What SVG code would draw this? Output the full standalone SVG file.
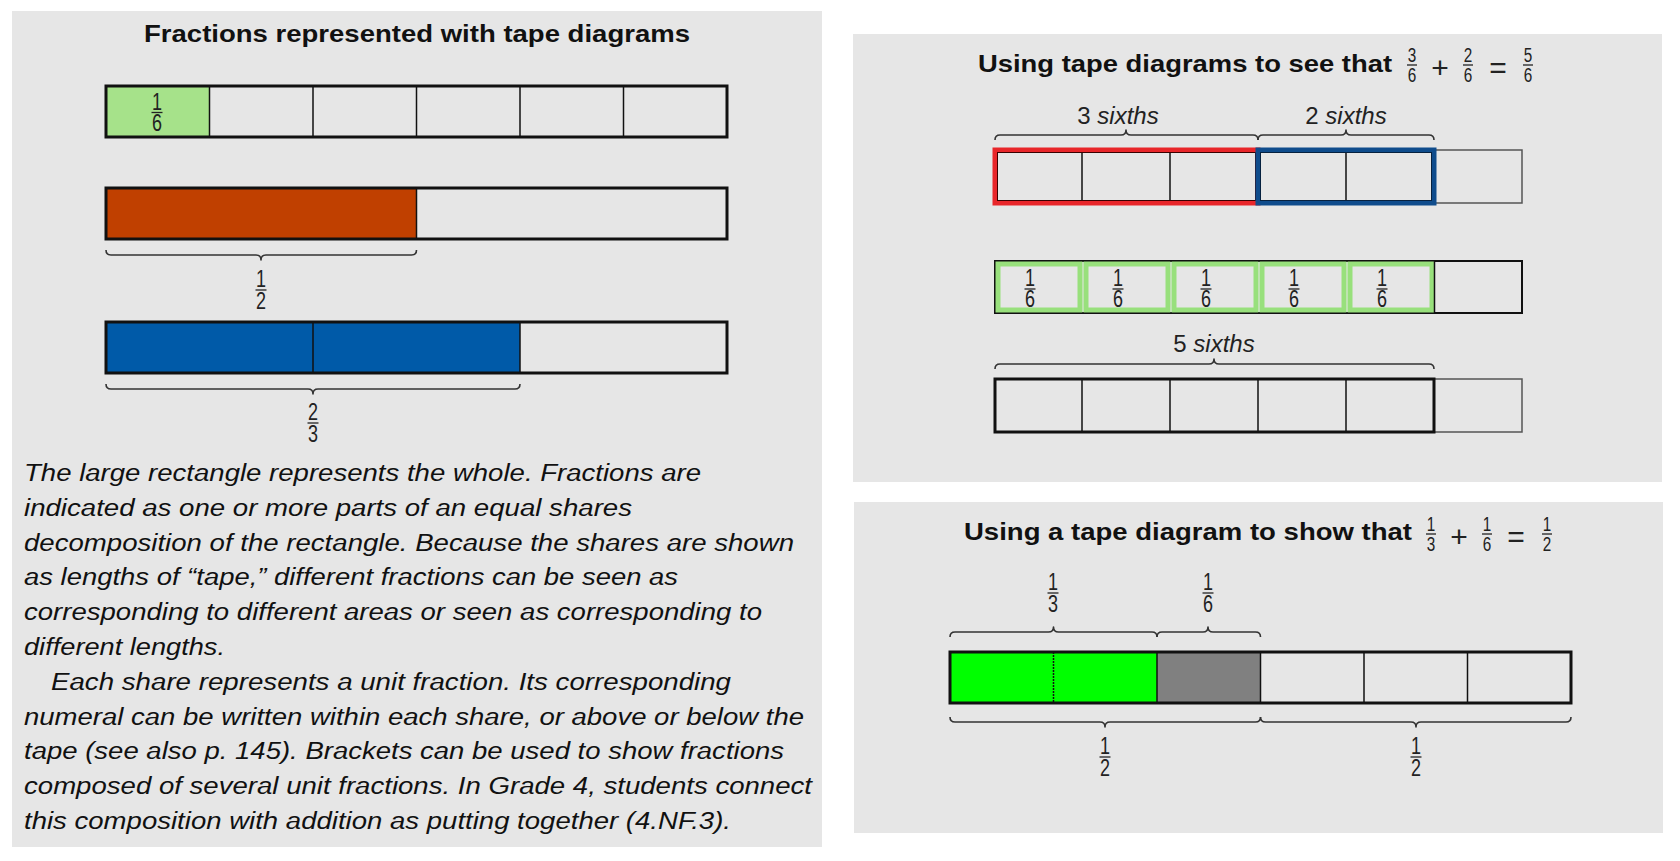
<svg xmlns="http://www.w3.org/2000/svg" width="1680" height="861" viewBox="0 0 1680 861">
<style>
.panel{fill:#e6e6e6}
.title{font-family:"Liberation Sans",Arial,sans-serif;font-weight:bold;font-size:24.5px;fill:#111}
.para{font-family:"Liberation Sans",Arial,sans-serif;font-style:italic;font-size:23.5px;fill:#111}
.num{font-family:"Liberation Sans",Arial,sans-serif;font-size:23px;fill:#222;text-anchor:middle}
.tnum{font-family:"Liberation Sans",Arial,sans-serif;font-size:20px;fill:#222;text-anchor:middle}
.op{font-family:"Liberation Sans",Arial,sans-serif;font-size:30px;fill:#222;text-anchor:middle}
.bar{stroke:#222;stroke-width:1.3}
.lbl{font-family:"Liberation Sans",Arial,sans-serif;font-size:24px;fill:#222;text-anchor:middle}
.it{font-style:italic}
.cell{fill:none;stroke:#111;stroke-width:1.5}
.thick{fill:none;stroke:#111;stroke-width:3}
.brace{fill:none;stroke:#333;stroke-width:1.6;stroke-linejoin:round}
</style>

<rect width="1680" height="861" fill="#ffffff"/>

<!-- Left panel -->
<g id="panel-left">
<rect class="panel" x="12" y="11" width="810" height="836"/>
<text class="title" x="144" y="42" textLength="546" lengthAdjust="spacingAndGlyphs">Fractions represented with tape diagrams</text>
</g>

<g id="tape-sixths">
<rect x="106" y="86" width="103.5" height="51" fill="#a6e28a"/>
<line class="cell" x1="209.5" y1="86" x2="209.5" y2="137"/>
<line class="cell" x1="313" y1="86" x2="313" y2="137"/>
<line class="cell" x1="416.5" y1="86" x2="416.5" y2="137"/>
<line class="cell" x1="520" y1="86" x2="520" y2="137"/>
<line class="cell" x1="623.5" y1="86" x2="623.5" y2="137"/>
<rect class="thick" x="106" y="86" width="621" height="51"/>
<g id="frac-l1"><text class="num"><tspan x="157" y="109.5" textLength="10" lengthAdjust="spacingAndGlyphs">1</tspan><tspan x="157" y="131" textLength="10" lengthAdjust="spacingAndGlyphs">6</tspan></text><line class="bar" x1="151.5" y1="112.5" x2="162.5" y2="112.5"/></g>
</g>

<g id="tape-half">
<rect x="106" y="188" width="310.5" height="51" fill="#c04000"/>
<line class="cell" x1="416.5" y1="188" x2="416.5" y2="239"/>
<rect class="thick" x="106" y="188" width="621" height="51"/>
<g id="frac-l2"><text class="num"><tspan x="261" y="287" textLength="10" lengthAdjust="spacingAndGlyphs">1</tspan><tspan x="261" y="308.5" textLength="10" lengthAdjust="spacingAndGlyphs">2</tspan></text><line class="bar" x1="255.5" y1="290" x2="266.5" y2="290"/></g>
</g>

<g id="tape-twothirds">
<rect x="106" y="322" width="414" height="51" fill="#005aa8"/>
<line class="cell" x1="313" y1="322" x2="313" y2="373"/>
<line class="cell" x1="520" y1="322" x2="520" y2="373"/>
<rect class="thick" x="106" y="322" width="621" height="51"/>
<g id="frac-l3"><text class="num"><tspan x="313" y="420" textLength="10" lengthAdjust="spacingAndGlyphs">2</tspan><tspan x="313" y="441.5" textLength="10" lengthAdjust="spacingAndGlyphs">3</tspan></text><line class="bar" x1="307.5" y1="423" x2="318.5" y2="423"/></g>
</g>

<g id="paragraph">
<text class="para" x="24" y="481" textLength="677" lengthAdjust="spacingAndGlyphs">The large rectangle represents the whole. Fractions are</text>
<text class="para" x="24" y="515.8" textLength="608" lengthAdjust="spacingAndGlyphs">indicated as one or more parts of an equal shares</text>
<text class="para" x="24" y="550.6" textLength="770" lengthAdjust="spacingAndGlyphs">decomposition of the rectangle. Because the shares are shown</text>
<text class="para" x="24" y="585.4" textLength="654" lengthAdjust="spacingAndGlyphs">as lengths of “tape,” different fractions can be seen as</text>
<text class="para" x="24" y="620.2" textLength="738" lengthAdjust="spacingAndGlyphs">corresponding to different areas or seen as corresponding to</text>
<text class="para" x="24" y="655" textLength="201" lengthAdjust="spacingAndGlyphs">different lengths.</text>
<text class="para" x="51" y="689.8" textLength="680" lengthAdjust="spacingAndGlyphs">Each share represents a unit fraction. Its corresponding</text>
<text class="para" x="24" y="724.6" textLength="780" lengthAdjust="spacingAndGlyphs">numeral can be written within each share, or above or below the</text>
<text class="para" x="24" y="759.4" textLength="760" lengthAdjust="spacingAndGlyphs">tape (see also p. 145). Brackets can be used to show fractions</text>
<text class="para" x="24" y="794.2" textLength="788" lengthAdjust="spacingAndGlyphs">composed of several unit fractions. In Grade 4, students connect</text>
<text class="para" x="24" y="829" textLength="707" lengthAdjust="spacingAndGlyphs">this composition with addition as putting together (4.NF.3).</text>
</g>

<!-- Top right panel -->
<g id="panel-top-right">
<rect class="panel" x="853" y="34" width="809" height="448"/>
<text class="title" x="978" y="72" textLength="414" lengthAdjust="spacingAndGlyphs">Using tape diagrams to see that</text>
<g id="eq1">
<text class="tnum"><tspan x="1412" y="62" textLength="8.5" lengthAdjust="spacingAndGlyphs">3</tspan><tspan x="1412" y="82" textLength="8.5" lengthAdjust="spacingAndGlyphs">6</tspan></text><line class="bar" x1="1407" y1="65" x2="1417" y2="65"/>
<text class="op" x="1440" y="78">+</text>
<text class="tnum"><tspan x="1468" y="62" textLength="8.5" lengthAdjust="spacingAndGlyphs">2</tspan><tspan x="1468" y="82" textLength="8.5" lengthAdjust="spacingAndGlyphs">6</tspan></text><line class="bar" x1="1463" y1="65" x2="1473" y2="65"/>
<text class="op" x="1498" y="78">=</text>
<text class="tnum"><tspan x="1528" y="62" textLength="8.5" lengthAdjust="spacingAndGlyphs">5</tspan><tspan x="1528" y="82" textLength="8.5" lengthAdjust="spacingAndGlyphs">6</tspan></text><line class="bar" x1="1523" y1="65" x2="1533" y2="65"/>
</g>
</g>

<g id="tape-a">
<rect x="1434" y="150" width="88" height="53" fill="none" stroke="#555" stroke-width="1.5"/>
<line class="cell" x1="1082" y1="150" x2="1082" y2="203"/>
<line class="cell" x1="1170" y1="150" x2="1170" y2="203"/>
<line class="cell" x1="1346" y1="150" x2="1346" y2="203"/>
<rect x="995" y="150" width="263" height="53" fill="none" stroke="#e8262a" stroke-width="5"/>
<rect x="997.5" y="152.5" width="258" height="48" fill="none" stroke="#3a0000" stroke-width="1"/>
<rect x="1258" y="150" width="176" height="53" fill="none" stroke="#0f4c8c" stroke-width="5"/>
<rect x="1260.5" y="152.5" width="171" height="48" fill="none" stroke="#06213f" stroke-width="1"/>
<text class="lbl" x="1118" y="124">3 <tspan class="it">sixths</tspan></text>
<text class="lbl" x="1346" y="124">2 <tspan class="it">sixths</tspan></text>
</g>

<g id="tape-b">
<rect x="995" y="261" width="527" height="52" fill="none" stroke="#111" stroke-width="2"/>
<rect x="998" y="264" width="82" height="46" fill="none" stroke="#98e07c" stroke-width="5"/>
<rect x="1086" y="264" width="82" height="46" fill="none" stroke="#98e07c" stroke-width="5"/>
<rect x="1174" y="264" width="82" height="46" fill="none" stroke="#98e07c" stroke-width="5"/>
<rect x="1262" y="264" width="82" height="46" fill="none" stroke="#98e07c" stroke-width="5"/>
<rect x="1350" y="264" width="82" height="46" fill="none" stroke="#98e07c" stroke-width="5"/>
<line x1="1434.5" y1="261" x2="1434.5" y2="313" stroke="#111" stroke-width="1.5"/>
<g id="frac-b1"><text class="num"><tspan x="1030" y="286" textLength="10" lengthAdjust="spacingAndGlyphs">1</tspan><tspan x="1030" y="307" textLength="10" lengthAdjust="spacingAndGlyphs">6</tspan></text><line class="bar" x1="1024.5" y1="289" x2="1035.5" y2="289"/></g>
<g id="frac-b2"><text class="num"><tspan x="1118" y="286" textLength="10" lengthAdjust="spacingAndGlyphs">1</tspan><tspan x="1118" y="307" textLength="10" lengthAdjust="spacingAndGlyphs">6</tspan></text><line class="bar" x1="1112.5" y1="289" x2="1123.5" y2="289"/></g>
<g id="frac-b3"><text class="num"><tspan x="1206" y="286" textLength="10" lengthAdjust="spacingAndGlyphs">1</tspan><tspan x="1206" y="307" textLength="10" lengthAdjust="spacingAndGlyphs">6</tspan></text><line class="bar" x1="1200.5" y1="289" x2="1211.5" y2="289"/></g>
<g id="frac-b4"><text class="num"><tspan x="1294" y="286" textLength="10" lengthAdjust="spacingAndGlyphs">1</tspan><tspan x="1294" y="307" textLength="10" lengthAdjust="spacingAndGlyphs">6</tspan></text><line class="bar" x1="1288.5" y1="289" x2="1299.5" y2="289"/></g>
<g id="frac-b5"><text class="num"><tspan x="1382" y="286" textLength="10" lengthAdjust="spacingAndGlyphs">1</tspan><tspan x="1382" y="307" textLength="10" lengthAdjust="spacingAndGlyphs">6</tspan></text><line class="bar" x1="1376.5" y1="289" x2="1387.5" y2="289"/></g>
</g>

<g id="tape-c">
<text class="lbl" x="1214" y="352">5 <tspan class="it">sixths</tspan></text>
<rect x="1434" y="379" width="88" height="53" fill="none" stroke="#555" stroke-width="1.5"/>
<line class="cell" x1="1082" y1="379" x2="1082" y2="432"/>
<line class="cell" x1="1170" y1="379" x2="1170" y2="432"/>
<line class="cell" x1="1258" y1="379" x2="1258" y2="432"/>
<line class="cell" x1="1346" y1="379" x2="1346" y2="432"/>
<rect class="thick" x="995" y="379" width="439" height="53"/>
</g>

<!-- Bottom right panel -->
<g id="panel-bottom-right">
<rect class="panel" x="854" y="502" width="809" height="331"/>
<text class="title" x="964" y="540" textLength="448" lengthAdjust="spacingAndGlyphs">Using a tape diagram to show that</text>
<g id="eq2">
<text class="tnum"><tspan x="1431" y="531" textLength="8.5" lengthAdjust="spacingAndGlyphs">1</tspan><tspan x="1431" y="551" textLength="8.5" lengthAdjust="spacingAndGlyphs">3</tspan></text><line class="bar" x1="1426" y1="534" x2="1436" y2="534"/>
<text class="op" x="1459" y="547">+</text>
<text class="tnum"><tspan x="1487" y="531" textLength="8.5" lengthAdjust="spacingAndGlyphs">1</tspan><tspan x="1487" y="551" textLength="8.5" lengthAdjust="spacingAndGlyphs">6</tspan></text><line class="bar" x1="1482" y1="534" x2="1492" y2="534"/>
<text class="op" x="1516" y="547">=</text>
<text class="tnum"><tspan x="1547" y="531" textLength="8.5" lengthAdjust="spacingAndGlyphs">1</tspan><tspan x="1547" y="551" textLength="8.5" lengthAdjust="spacingAndGlyphs">2</tspan></text><line class="bar" x1="1542" y1="534" x2="1552" y2="534"/>
</g>
</g>

<g id="tape-d">
<rect x="950" y="652" width="207" height="51" fill="#00ff00"/>
<rect x="1157" y="652" width="103.5" height="51" fill="#808080"/>
<line class="cell" x1="1053.5" y1="652" x2="1053.5" y2="703" stroke-dasharray="2 1"/>
<line class="cell" x1="1157" y1="652" x2="1157" y2="703"/>
<line class="cell" x1="1260.5" y1="652" x2="1260.5" y2="703"/>
<line class="cell" x1="1364" y1="652" x2="1364" y2="703"/>
<line class="cell" x1="1467.5" y1="652" x2="1467.5" y2="703"/>
<rect class="thick" x="950" y="652" width="621" height="51"/>
<g id="frac-d1"><text class="num"><tspan x="1053" y="590" textLength="10" lengthAdjust="spacingAndGlyphs">1</tspan><tspan x="1053" y="611.5" textLength="10" lengthAdjust="spacingAndGlyphs">3</tspan></text><line class="bar" x1="1047.5" y1="593" x2="1058.5" y2="593"/></g>
<g id="frac-d2"><text class="num"><tspan x="1208" y="590" textLength="10" lengthAdjust="spacingAndGlyphs">1</tspan><tspan x="1208" y="611.5" textLength="10" lengthAdjust="spacingAndGlyphs">6</tspan></text><line class="bar" x1="1202.5" y1="593" x2="1213.5" y2="593"/></g>
<g id="frac-d3"><text class="num"><tspan x="1105" y="754" textLength="10" lengthAdjust="spacingAndGlyphs">1</tspan><tspan x="1105" y="775.5" textLength="10" lengthAdjust="spacingAndGlyphs">2</tspan></text><line class="bar" x1="1099.5" y1="757" x2="1110.5" y2="757"/></g>
<g id="frac-d4"><text class="num"><tspan x="1416" y="754" textLength="10" lengthAdjust="spacingAndGlyphs">1</tspan><tspan x="1416" y="775.5" textLength="10" lengthAdjust="spacingAndGlyphs">2</tspan></text><line class="bar" x1="1410.5" y1="757" x2="1421.5" y2="757"/></g>
</g>

<!-- Brackets (connectors) -->
<g id="brackets">
<path class="brace" d="M106 250 q0 5 5 5 L256 255 q5 0 5 5 q0 -5 5 -5 L411.5 255 q5 0 5 -5"/>
<path class="brace" d="M106 384 q0 5 5 5 L308 389 q5 0 5 5 q0 -5 5 -5 L515 389 q5 0 5 -5"/>
<path class="brace" d="M995 140 q0 -5 5 -5 L1121 135 q5 0 5 -5 q0 5 5 5 L1253 135 q5 0 5 5"/>
<path class="brace" d="M1258 140 q0 -5 5 -5 L1341 135 q5 0 5 -5 q0 5 5 5 L1429 135 q5 0 5 5"/>
<path class="brace" d="M995 369 q0 -5 5 -5 L1209 364 q5 0 5 -5 q0 5 5 5 L1429 364 q5 0 5 5"/>
<path class="brace" d="M950 637 q0 -5 5 -5 L1048.5 632 q5 0 5 -5 q0 5 5 5 L1152 632 q5 0 5 5"/>
<path class="brace" d="M1157 637 q0 -5 5 -5 L1203 632 q5 0 5 -5 q0 5 5 5 L1255.5 632 q5 0 5 5"/>
<path class="brace" d="M950 717 q0 5 5 5 L1100 722 q5 0 5 5 q0 -5 5 -5 L1255.5 722 q5 0 5 -5"/>
<path class="brace" d="M1260.5 717 q0 5 5 5 L1411 722 q5 0 5 5 q0 -5 5 -5 L1566 722 q5 0 5 -5"/>
</g>
</svg>
